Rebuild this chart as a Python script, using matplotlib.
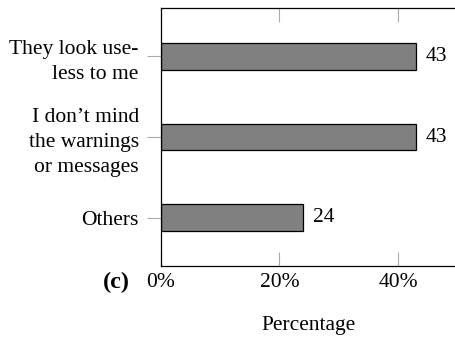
import matplotlib
matplotlib.use('Agg')
import matplotlib.pyplot as plt

# data
categories = ['They look use-\nless to me', 'I don\u2019t mind\nthe warnings\nor messages', 'Others']
values = [43, 43, 24]
xticks = [0, 20, 40]
xtick_labels = ['0%', '20%', '40%']

plt.rcParams['font.family'] = ['Liberation Serif', 'DejaVu Serif']
fs = 15.5

fig = plt.figure(figsize=(4.56, 3.38), dpi=100)
ax = fig.add_axes([161/456, 1 - 266/338, 1 - 161/456, (266 - 8)/338])

ypos = [2, 1, 0]
ax.barh(ypos, values, height=0.33, color='#808080', edgecolor='black', linewidth=0.9)
for y, v in zip(ypos, values):
    ax.text(v + 1.6, y, str(v), va='center', ha='left', fontsize=fs)

ax.set_xlim(0, 49.8)
ax.set_ylim(-0.6, 2.6)
ax.set_yticks(ypos)
ax.set_yticklabels(categories, fontsize=fs, linespacing=1.45)
ax.set_xticks(xticks)
ax.set_xticklabels(xtick_labels, fontsize=fs)
ax.tick_params(axis='x', direction='in', top=True, length=10, color='#aaaaaa', pad=5)
ax.tick_params(axis='y', direction='out', length=10, color='#aaaaaa', pad=6)
ax.spines['right'].set_visible(False)
for s in ['left', 'top', 'bottom']:
    ax.spines[s].set_linewidth(0.9)

ax.set_xlabel('Percentage', fontsize=fs, labelpad=17)
fig.text(116/456, 1 - 282/338, '(c)', fontsize=fs + 2, fontweight='bold', ha='center', va='center')

fig.savefig('out.png', dpi=100)
